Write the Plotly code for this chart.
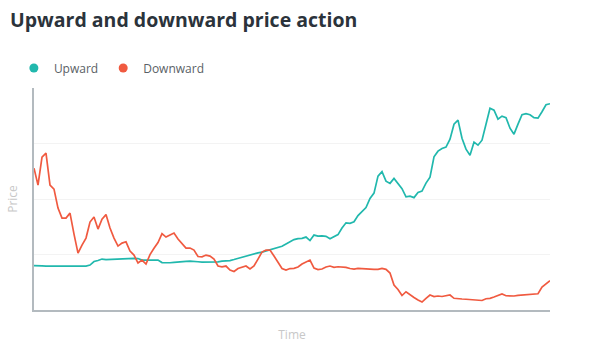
import plotly.graph_objects as go

# Time steps
time = list(range(130))

# Price series
upward = [
    80.1, 79.2, 79.6, 79.2, 79.2, 78.8, 79.2, 80.1, 79.2, 78.8,
    79.2, 79.2, 79.6, 79.2, 81, 87.3, 89.1, 91.8, 90.9, 91.3,
    91.3, 91.8, 93.1, 93.1, 93.1, 93.1, 92.7, 90, 90, 90,
    90.5, 90, 85.5, 85.1, 85.1, 85.9, 86.9, 86.9, 87.7, 88.2,
    86.9, 86.9, 86.4, 86.4, 86.4, 85.5, 86.8, 88.2, 88.2, 89.1,
    90.9, 93.1, 95.4, 97.6, 99.4, 100.8, 103, 104.4, 106.6, 108.9,
    111.6, 113.8, 114.8, 118.8, 122.4, 126.9, 128.7, 129.1, 131.4, 125.1,
    135, 133.2, 133.7, 132.7, 128.3, 131.4, 135.9, 147.6, 157.1, 156.1,
    158.9, 170.1, 177.3, 184.5, 201.1, 210.6, 241.2, 249.3, 232.2, 228.1,
    237.1, 227.7, 218.7, 203.9, 205.2, 202.5, 211.9, 214.2, 228.6, 239.4,
    275.9, 286.2, 291.1, 293.4, 307.8, 334.8, 342, 309.6, 289.8, 279,
    302.4, 297, 306, 334.8, 363.6, 360, 343.8, 349.2, 346.5, 327.6,
    316.8, 334.8, 351.9, 353.7, 351.9, 346.5, 345.6, 357.3, 369.9, 371.7,
]

downward = [
    255.6, 225, 275.4, 282.6, 225, 217.8, 183.6, 165.6, 165.6, 174.6,
    136.8, 102.6, 117, 129.6, 158.4, 167.4, 145.8, 163.8, 171.9, 147.6,
    129.6, 115.2, 120.6, 122.9, 106.2, 99, 84.6, 90, 82.8, 99.9,
    111.1, 121.5, 137.7, 131.4, 135, 138.6, 127.8, 118.8, 111.6, 111.6,
    108, 96.3, 95.9, 99, 97.2, 91.8, 79.2, 77.9, 79.2, 72,
    69.3, 74.7, 77.4, 79.2, 73.8, 79.2, 91.8, 104.4, 108, 108,
    97.2, 84.6, 74.7, 72, 74.7, 75.1, 77.4, 82.8, 86.4, 90,
    75.6, 72.9, 73.8, 77.4, 79.2, 76.9, 77.9, 77.4, 76.9, 74.7,
    73.8, 75.1, 75.1, 75.1, 73.8, 73.3, 73.3, 75.1, 73.3, 66.6,
    45, 36.9, 26.1, 32.9, 27, 22.5, 18, 14.4, 21.1, 27,
    24.3, 25.2, 24.3, 26.1, 27, 21.1, 21.1, 19.8, 19.4, 18.9,
    18, 18, 17.1, 20.3, 21.1, 23.4, 26.1, 28.8, 25.7, 25.2,
    25.2, 26.5, 27, 27.9, 28.4, 28.8, 29.3, 41.4, 47.7, 52.7,
]

series_names = ["Upward", "Downward"]
colors = ["#21b8ad", "#f05a40"]

fig = go.Figure()
for name, vals, col in zip(series_names, [upward, downward], colors):
    fig.add_trace(go.Scatter(x=time, y=vals, mode="lines", name=name,
                             line=dict(color=col, width=1.7), showlegend=False))
    fig.add_trace(go.Scatter(x=[None], y=[None], mode="markers", name=name,
                             marker=dict(color=col, size=9), showlegend=True))

fig.update_layout(
    width=594, height=346,
    margin=dict(l=34, r=44, t=88, b=36),
    paper_bgcolor="white", plot_bgcolor="white",
    font=dict(family="Open Sans", color="#555"),
    title=dict(text="<b>Upward and downward price action</b>",
               x=10/594, xref="container", xanchor="left",
               y=1-20/346, yref="container", yanchor="middle",
               font=dict(size=19.5, color="#2b333b", family="Open Sans")),
    legend=dict(orientation="h", x=-0.039, xanchor="left", y=1 + (88-68)/222, yanchor="middle",
                font=dict(size=12, color="#5a5f66"), bgcolor="rgba(0,0,0,0)"),
    showlegend=True,
)
fig.update_xaxes(range=[0, 129], showgrid=False, zeroline=False, automargin=False,
                 showline=True, linecolor="#b3babf", linewidth=2,
                 showticklabels=False, ticks="",
                 title=dict(text="Time", font=dict(size=12, color="#c8c8c8"), standoff=20))
fig.update_yaxes(range=[0, 400], dtick=100, showgrid=True, gridcolor="#f3f3f3", gridwidth=1,
                 zeroline=False, showline=True, linecolor="#b3babf", linewidth=1.5,
                 automargin=False, showticklabels=False, ticks="",
                 title=dict(text="Price", font=dict(size=12, color="#c8c8c8"), standoff=12))

fig.write_html("out.html")
